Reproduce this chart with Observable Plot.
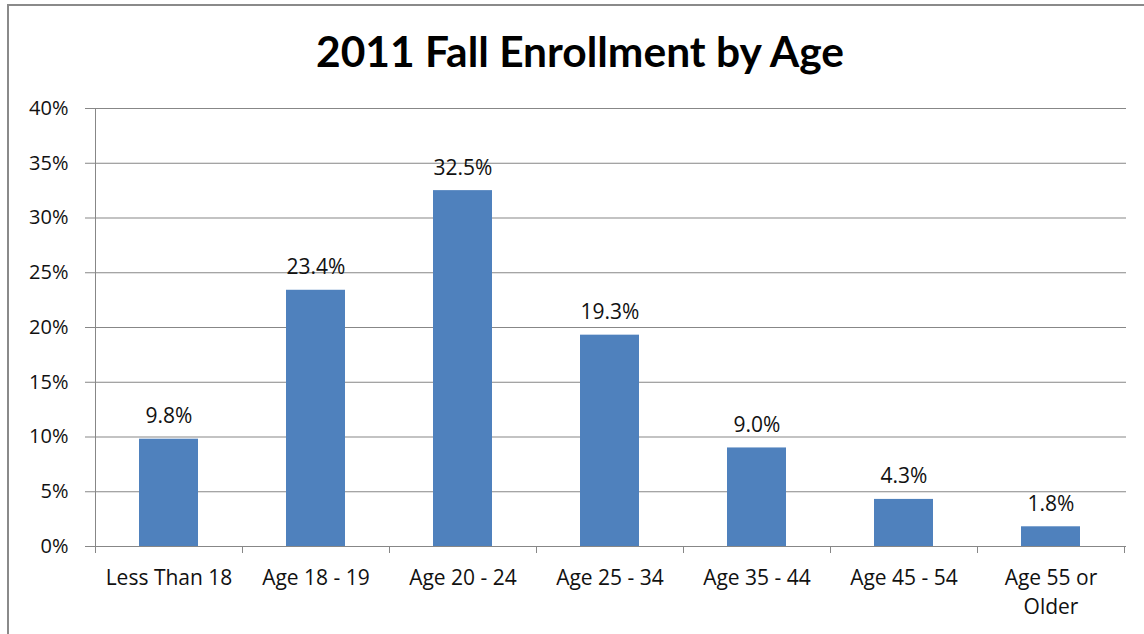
<!DOCTYPE html>
<html><head><meta charset="utf-8">
<script src="https://cdn.jsdelivr.net/npm/d3@7"></script>
<script src="https://cdn.jsdelivr.net/npm/@observablehq/plot@0.6"></script>
<style>
html,body{margin:0;padding:0;background:#fff;}
#wrap{position:relative;width:1144px;height:634px;overflow:hidden;font-family:Lato,"Open Sans",sans-serif;}
#frame{position:absolute;left:7px;top:4px;width:1200px;height:700px;border-left:2px solid #8a8a8a;border-top:2px solid #8a8a8a;}
#title{position:absolute;left:580px;top:30px;transform:translateX(-50%);font-size:42.5px;line-height:1;font-weight:bold;color:#000;white-space:nowrap;}
#chart{position:absolute;left:0;top:90px;}
</style></head>
<body>
<div id="wrap"><div id="frame"></div><div id="title">2011 Fall Enrollment by Age</div><div id="chart"></div></div>
<script>
const categories = ["Less Than 18","Age 18 - 19","Age 20 - 24","Age 25 - 34","Age 35 - 44","Age 45 - 54","Age 55 or Older"];
const tickLabels = ["Less Than 18","Age 18 - 19","Age 20 - 24","Age 25 - 34","Age 35 - 44","Age 45 - 54","Age 55 or\nOlder"];
const shares = [9.8, 23.4, 32.5, 19.3, 9.0, 4.3, 1.8];
const yTicks = [0, 5, 10, 15, 20, 25, 30, 35, 40];

const data = categories.map((c, i) => ({category: c, share: shares[i]}));
const gridColor = "#878787";
const labelFont = "'Open Sans', Lato, sans-serif";

function bandEdges(index, scales) {
  const x = scales.x, y = scales.y;
  const bw = typeof x.bandwidth === "function" ? x.bandwidth() : x.bandwidth;
  const st = typeof x.step === "function" ? x.step() : (x.step ?? bw / 0.4);
  const edges = categories.map(c => x(c) + bw / 2 - st / 2);
  edges.push(x(categories[categories.length - 1]) + bw / 2 + st / 2);
  const y0 = y(yTicks[0]), y1 = y(yTicks[yTicks.length - 1]);
  const g = d3.create("svg:g").attr("stroke", gridColor).attr("fill", "none");
  g.append("line").attr("x1", Math.round(edges[0]) + 0.5).attr("x2", Math.round(edges[0]) + 0.5)
    .attr("y1", y1).attr("y2", y0);
  for (const e of edges) {
    g.append("line").attr("x1", Math.round(e) + 0.5).attr("x2", Math.round(e) + 0.5)
      .attr("y1", y0).attr("y2", y0 + 7);
  }
  return g.node();
}

const chart = Plot.plot({
  width: 1144, height: 544,
  marginTop: 18, marginBottom: 88, marginLeft: 92, marginRight: 18,
  style: {fontFamily: labelFont, fontSize: "21px", color: "#000", background: "transparent"},
  x: {domain: categories, paddingInner: 0.6, paddingOuter: 0.3},
  y: {domain: [0, 40]},
  marks: [
    Plot.ruleY(yTicks, {stroke: gridColor}),
    Plot.axisY({ticks: yTicks, tickSize: 7, tickPadding: 17, tickFormat: d => d + "%", stroke: gridColor, fill: "#111", fontSize: 20, label: null}),
    Plot.axisX({tickSize: 0, tickPadding: 18, tickFormat: d => tickLabels[categories.indexOf(d)], fill: "#111", fontSize: 21, lineHeight: 1.38, label: null}),
    Plot.barY(data, {x: "category", y: "share", fill: "#4F81BD"}),
    Plot.text(data, {x: "category", y: "share", text: d => d.share.toFixed(1) + "%", dy: -16, lineAnchor: "bottom", fontSize: 21, fill: "#111"}),
    bandEdges
  ]
});
document.getElementById("chart").append(chart);
</script>
</body></html>
